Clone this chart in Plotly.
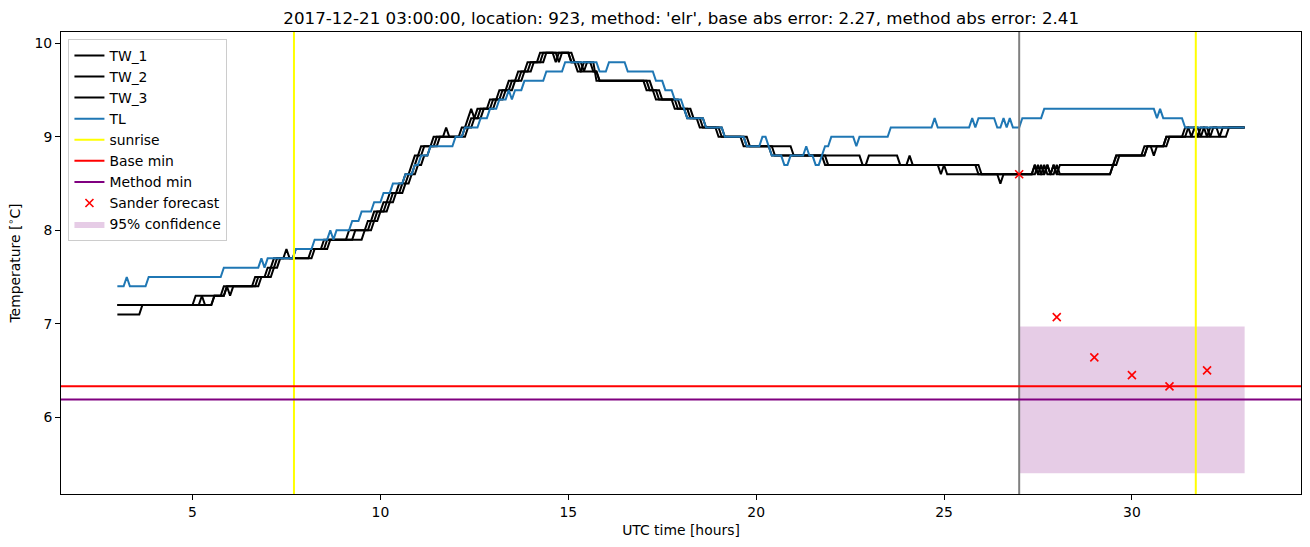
import numpy as np
import plotly.graph_objects as go

# ---------------- data ----------------
# Step levels: (start hour, value); each series sampled every 5 minutes from 3h to 33h
TL_start = [3.0, 3.25, 3.33, 3.83, 5.83, 6.83, 6.92, 7.0, 7.75, 8.25, 8.67, 8.75, 8.83, 9.25, 9.5,
            9.83, 10.08, 10.33, 10.67, 10.92, 11.08, 11.33, 12.0, 12.25, 12.67, 12.92, 13.17, 13.42,
            13.5, 13.58, 13.83, 14.42, 14.92, 15.83, 16.08, 16.58, 17.33, 17.58, 17.83, 18.08, 18.17,
            18.67, 19.17, 19.75, 20.17, 20.33, 20.42, 20.75, 20.92, 21.33, 21.42, 21.58, 21.75, 21.83,
            22.0, 22.67, 22.75, 23.58, 24.75, 24.83, 25.75, 25.83, 25.92, 26.42, 26.58, 26.67, 26.75,
            26.83, 27.08, 27.67, 30.67, 30.75, 30.83, 31.42]
TL_level = [7.4, 7.5, 7.4, 7.5, 7.6, 7.7, 7.6, 7.7, 7.8, 7.9, 8.0, 7.9, 8.0, 8.1, 8.2,
            8.3, 8.4, 8.5, 8.6, 8.7, 8.8, 8.9, 9.0, 9.1, 9.2, 9.3, 9.4, 9.5,
            9.4, 9.5, 9.6, 9.7, 9.8, 9.7, 9.8, 9.7, 9.6, 9.5, 9.4, 9.3, 9.2,
            9.1, 9.0, 8.9, 9.0, 8.9, 8.8, 8.7, 8.8, 8.9, 8.8, 8.7, 8.8, 8.9,
            9.0, 8.9, 9.0, 9.1, 9.2, 9.1, 9.2, 9.1, 9.2, 9.1, 9.2, 9.1, 9.2,
            9.1, 9.2, 9.3, 9.2, 9.3, 9.2, 9.1]

TW1_start = [3.0, 5.08, 5.83, 6.67, 7.0, 7.17, 7.5, 7.58, 7.75, 8.5, 9.17, 9.67, 9.83, 10.08, 10.25,
             10.5, 10.67, 10.83, 10.92, 11.08, 11.42, 11.75, 11.83, 12.17, 12.33, 12.42, 12.5, 12.58,
             12.92, 13.17, 13.42, 13.67, 13.92, 14.25, 15.08, 15.25, 15.42, 15.75, 17.08, 17.33, 17.83,
             18.17, 18.5, 19.0, 19.67, 20.42, 21.83, 24.92, 25.0, 25.92, 26.5, 26.58, 27.42, 27.5,
             27.58, 27.67, 27.75, 27.83, 27.92, 28.0, 28.08, 29.58, 30.42, 31.0, 31.42, 31.58, 31.67,
             31.83, 31.92, 32.08, 32.17]
TW1_level = [7.2, 7.3, 7.4, 7.5, 7.6, 7.7, 7.8, 7.7, 7.8, 7.9, 8.0, 8.1, 8.2, 8.3, 8.4,
             8.5, 8.6, 8.7, 8.8, 8.9, 9.0, 9.1, 9.0, 9.1, 9.2, 9.3, 9.2, 9.3,
             9.4, 9.5, 9.6, 9.7, 9.8, 9.9, 9.8, 9.7, 9.8, 9.6, 9.5, 9.4, 9.3,
             9.2, 9.1, 9.0, 8.9, 8.8, 8.7, 8.6, 8.7, 8.6, 8.5, 8.6, 8.7, 8.6,
             8.7, 8.6, 8.7, 8.6, 8.7, 8.6, 8.7, 8.8, 8.9, 9.0, 9.1, 9.0, 9.1,
             9.0, 9.1, 9.0, 9.1]

TW2_start = [3.0, 5.25, 5.33, 5.58, 5.92, 6.0, 6.08, 6.75, 7.08, 7.25, 8.17, 8.58, 9.33, 9.75, 9.92,
             10.17, 10.33, 10.58, 10.75, 10.92, 11.0, 11.17, 11.5, 12.25, 12.42, 12.67, 13.0, 13.25,
             13.5, 13.75, 14.0, 14.33, 14.67, 14.75, 15.08, 15.33, 15.83, 17.17, 17.42, 17.92, 18.25,
             18.58, 19.08, 19.75, 20.5, 22.83, 23.0, 23.83, 24.08, 24.17, 25.08, 27.42, 27.5, 27.67,
             27.75, 27.92, 28.0, 29.5, 29.58, 30.33, 30.58, 30.67, 30.92, 32.58]
TW2_level = [7.2, 7.3, 7.2, 7.3, 7.4, 7.3, 7.4, 7.5, 7.6, 7.7, 7.8, 7.9, 8.0, 8.1, 8.2,
             8.3, 8.4, 8.5, 8.6, 8.7, 8.8, 8.9, 9.0, 9.1, 9.2, 9.3, 9.4, 9.5,
             9.6, 9.7, 9.8, 9.9, 9.8, 9.9, 9.8, 9.7, 9.6, 9.5, 9.4, 9.3, 9.2,
             9.1, 9.0, 8.9, 8.8, 8.7, 8.8, 8.7, 8.8, 8.7, 8.6, 8.7, 8.6, 8.7,
             8.6, 8.7, 8.6, 8.7, 8.8, 8.9, 8.8, 8.9, 9.0, 9.1]

TW3_start = [3.0, 3.67, 5.58, 5.92, 6.83, 7.17, 7.33, 8.25, 8.67, 9.58, 9.83, 10.0, 10.25, 10.42,
             10.67, 10.83, 11.0, 11.17, 11.33, 11.58, 12.33, 12.5, 12.75, 13.08, 13.33, 13.58, 13.83,
             14.08, 14.42, 14.75, 14.83, 15.17, 15.42, 15.5, 15.67, 15.83, 17.25, 17.5, 18.0, 18.33,
             18.67, 19.17, 19.83, 21.0, 21.92, 26.0, 27.5, 27.58, 27.75, 27.83, 28.0, 28.08, 29.5,
             29.67, 30.42, 30.92, 31.5, 31.75, 31.83, 32.0, 32.08, 32.33, 32.42]
TW3_level = [7.1, 7.2, 7.3, 7.4, 7.5, 7.6, 7.7, 7.8, 7.9, 8.0, 8.1, 8.2, 8.3, 8.4,
             8.5, 8.6, 8.7, 8.8, 8.9, 9.0, 9.1, 9.2, 9.3, 9.4, 9.5, 9.6, 9.7,
             9.8, 9.9, 9.8, 9.9, 9.8, 9.7, 9.8, 9.7, 9.6, 9.5, 9.4, 9.3, 9.2,
             9.1, 9.0, 8.9, 8.8, 8.7, 8.6, 8.7, 8.6, 8.7, 8.6, 8.7, 8.6, 8.7,
             8.8, 8.9, 9.0, 9.1, 9.0, 9.1, 9.0, 9.1, 9.0, 9.1]

series_start_h = 3.0
series_end_h = 33.0
samples_per_hour = 12

sunrise_h = [7.7, 31.7]
now_h = 27.0
base_min = 6.33
method_min = 6.19

forecast_h = [27, 28, 29, 30, 31, 32]
forecast_T = [8.6, 7.07, 6.64, 6.45, 6.33, 6.50]

conf_h = [27.0, 33.0]
conf_low = 5.40
conf_high = 6.97

title = "2017-12-21 03:00:00, location: 923, method: 'elr', base abs error: 2.27, method abs error: 2.41"

# ---------------- build ----------------
n = int(round((series_end_h - series_start_h) * samples_per_hour)) + 1
t = series_start_h + np.arange(n) / samples_per_hour


def hold(starts, levels):
    idx = np.searchsorted(np.array(starts), t + 0.01, side="right") - 1
    return np.array(levels)[idx]


xr = [1.5, 34.5]
yr = [5.1775, 10.1225]
FS = 13.9

fig = go.Figure()

# confidence band (bottom)
fig.add_trace(go.Scatter(
    x=[conf_h[0], conf_h[1], conf_h[1], conf_h[0], conf_h[0]],
    y=[conf_low, conf_low, conf_high, conf_high, conf_low],
    fill="toself", fillcolor="rgba(128,0,128,0.2)", line=dict(width=0),
    mode="lines", name="95% confidence", legendrank=9, hoverinfo="skip"))

for name, st, lv, rank in [("TW_1", TW1_start, TW1_level, 1), ("TW_2", TW2_start, TW2_level, 2),
                           ("TW_3", TW3_start, TW3_level, 3)]:
    fig.add_trace(go.Scatter(x=t, y=hold(st, lv), mode="lines", name=name,
                             line=dict(color="black", width=2), legendrank=rank))

fig.add_trace(go.Scatter(x=t, y=hold(TL_start, TL_level), mode="lines", name="TL",
                         line=dict(color="#1f77b4", width=2), legendrank=4))

sx, sy = [], []
for s in sunrise_h:
    sx += [s, s, None]
    sy += [yr[0], yr[1], None]
fig.add_trace(go.Scatter(x=sx, y=sy, mode="lines", name="sunrise",
                         line=dict(color="yellow", width=2), legendrank=5))

fig.add_trace(go.Scatter(x=[now_h, now_h], y=yr, mode="lines", showlegend=False,
                         line=dict(color="gray", width=2)))

fig.add_trace(go.Scatter(x=xr, y=[base_min, base_min], mode="lines", name="Base min",
                         line=dict(color="red", width=2), legendrank=6))
fig.add_trace(go.Scatter(x=xr, y=[method_min, method_min], mode="lines", name="Method min",
                         line=dict(color="purple", width=2), legendrank=7))

fig.add_trace(go.Scatter(x=forecast_h, y=forecast_T, mode="markers", name="Sander forecast",
                         marker=dict(symbol="x-thin", size=8, color="red",
                                     line=dict(color="red", width=1.6)), legendrank=8))

axis_common = dict(showline=True, linecolor="black", linewidth=1, mirror=True,
                   ticks="outside", ticklen=5, tickwidth=1, tickcolor="black",
                   showgrid=False, zeroline=False,
                   tickfont=dict(family="DejaVu Sans", size=FS, color="black"))

fig.update_layout(
    width=1310, height=547,
    margin=dict(l=61, r=9, t=32, b=53),
    paper_bgcolor="white", plot_bgcolor="white",
    font=dict(family="DejaVu Sans", size=FS, color="black"),
    title=dict(text=title, x=0.52, xanchor="center", y=0.967, yanchor="middle",
               font=dict(family="DejaVu Sans", size=16.7, color="black")),
    xaxis=dict(range=xr, tickvals=[5, 10, 15, 20, 25, 30],
               title=dict(text="UTC time [hours]", standoff=6,
                          font=dict(family="DejaVu Sans", size=FS)), **axis_common),
    yaxis=dict(range=yr, tickvals=[6, 7, 8, 9, 10],
               title=dict(text="Temperature [<sup>∘</sup>C]", standoff=10,
                          font=dict(family="DejaVu Sans", size=FS)), **axis_common),
    legend=dict(x=0.006, y=0.985, xanchor="left", yanchor="top",
                bgcolor="rgba(255,255,255,0.8)", bordercolor="#cccccc", borderwidth=1,
                font=dict(family="DejaVu Sans", size=FS), tracegroupgap=0,
                traceorder="normal"),
    showlegend=True,
)

fig.write_html("out.html")
